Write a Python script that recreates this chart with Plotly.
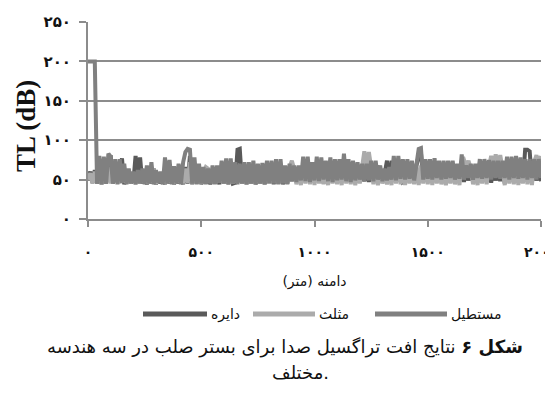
import plotly.graph_objects as go

# distance along range (m), sampled every 10 m
distance_m = list(range(0, 2001, 10))

series_names = ["دایره", "مثلث", "مستطیل"]
series_colors = ["#5a5a5a", "#ababab", "#808080"]

# TL (dB) – circle geometry
tl_circle = [
    52, 60, 46, 62, 45, 64, 44, 66, 45, 70,
    81, 45, 64, 46, 62, 77, 44, 60, 45, 58,
    46, 80, 62, 78, 45, 60, 44, 62, 45, 64,
    44, 56, 45, 58, 44, 66, 45, 64, 44, 60,
    45, 62, 44, 66, 45, 80, 44, 70, 45, 64,
    44, 58, 45, 56, 44, 60, 45, 62, 44, 64,
    45, 70, 44, 68, 45, 46, 88, 89, 45, 66,
    44, 64, 45, 66, 44, 62, 45, 64, 44, 66,
    45, 68, 44, 70, 45, 66, 44, 60, 45, 62,
    48, 64, 49, 60, 48, 70, 47, 72, 49, 66,
    48, 70, 49, 68, 45, 64, 48, 70, 49, 68,
    48, 66, 47, 74, 49, 66, 48, 64, 46, 62,
    49, 60, 48, 62, 47, 66, 49, 64, 48, 60,
    47, 58, 74, 47, 74, 49, 70, 48, 72, 47,
    49, 68, 47, 66, 45, 68, 80, 84, 49, 70,
    48, 66, 47, 68, 49, 66, 48, 64, 45, 66,
    47, 68, 49, 64, 48, 74, 47, 66, 49, 64,
    48, 66, 47, 68, 49, 70, 48, 66, 46, 64,
    49, 66, 48, 64, 45, 70, 47, 72, 49, 70,
    48, 68, 47, 88, 88, 86, 47, 70, 49, 68,
    48,
]

# TL (dB) – triangle geometry
tl_triangle = [
    50, 58, 45, 60, 46, 62, 45, 64, 46, 66,
    45, 66, 46, 64, 45, 62, 46, 58, 45, 56,
    46, 58, 45, 56, 46, 60, 45, 62, 46, 64,
    45, 56, 46, 58, 45, 62, 46, 64, 45, 60,
    46, 62, 45, 64, 46, 72, 45, 66, 46, 62,
    45, 60, 66, 64, 46, 60, 45, 62, 46, 64,
    45, 68, 46, 66, 45, 62, 46, 60, 45, 64,
    46, 62, 45, 64, 46, 60, 45, 62, 46, 64,
    45, 66, 46, 68, 45, 64, 46, 62, 45, 66,
    74, 64, 44, 62, 43, 68, 45, 70, 44, 66,
    43, 68, 45, 66, 44, 64, 43, 68, 45, 66,
    44, 64, 43, 70, 45, 66, 44, 64, 43, 62,
    45, 64, 86, 68, 85, 66, 44, 64, 43, 62,
    45, 60, 44, 62, 43, 70, 45, 72, 44, 68,
    43, 66, 45, 64, 44, 66, 43, 68, 45, 68,
    44, 66, 43, 68, 45, 64, 44, 62, 43, 64,
    45, 66, 44, 62, 43, 72, 75, 66, 74, 64,
    44, 62, 43, 66, 45, 68, 44, 66, 80, 68,
    82, 66, 81, 64, 43, 70, 45, 72, 44, 68,
    43, 66, 45, 70, 44, 68, 43, 72, 81, 70,
    80,
]

# TL (dB) – rectangle geometry
tl_rectangle = [
    200, 200, 200, 200, 45, 80, 44, 79, 45, 83,
    79, 45, 76, 44, 76, 46, 70, 44, 64, 45,
    60, 44, 62, 45, 64, 44, 68, 45, 72, 44,
    62, 46, 60, 44, 78, 45, 75, 44, 67, 45,
    70, 44, 72, 85, 89, 88, 45, 78, 44, 70,
    45, 66, 44, 64, 45, 68, 44, 68, 46, 74,
    45, 77, 44, 77, 45, 72, 44, 70, 45, 72,
    44, 72, 45, 74, 44, 70, 45, 71, 44, 74,
    46, 74, 45, 76, 44, 76, 45, 68, 44, 70,
    48, 68, 47, 68, 49, 79, 48, 79, 47, 72,
    49, 79, 48, 78, 50, 74, 48, 78, 47, 76,
    49, 76, 50, 83, 48, 76, 47, 74, 49, 72,
    50, 70, 48, 70, 49, 74, 48, 74, 50, 68,
    48, 64, 49, 66, 50, 80, 49, 80, 51, 76,
    50, 76, 51, 74, 49, 74, 89, 90, 50, 76,
    51, 76, 50, 77, 52, 74, 50, 74, 51, 74,
    52, 74, 50, 70, 51, 82, 50, 68, 52, 70,
    50, 70, 52, 76, 51, 76, 52, 75, 50, 74,
    52, 74, 51, 74, 52, 79, 50, 79, 52, 80,
    51, 78, 52, 76, 50, 76, 52, 76, 50, 76,
    52,
]

y_tickvals = [0, 50, 100, 150, 200, 250]
y_ticktext = ["۰", "۵۰", "۱۰۰", "۱۵۰", "۲۰۰", "۲۵۰"]
x_tickvals = [0, 500, 1000, 1500, 2000]
x_ticktext = ["۰", "۵۰۰", "۱۰۰۰", "۱۵۰۰", "۲۰۰۰"]

y_title = "TL (dB)"
x_title = "دامنه (متر)"
caption_label = "شکل ۶"
caption_text = "نتایج افت تراگسیل صدا برای بستر صلب در سه هندسه"
caption_line2 = "مختلف."

# ---- layout geometry (page pixels) ----
OFF = 8
W, H = 545, 401
L, T = 80, 14
PW, PH = 453, 197
R = W - L - PW
B = H - T - PH

y_title_x, y_title_y = 26, 126
caption_x1, caption_y1 = 285, 347
caption_x2, caption_y2 = 300, 372
legend_y = 314
legend_segments = [(143, 207), (253, 315), (375, 447)]


def px_x(px):
    return (px - OFF - L) / PW


def px_y(py):
    return (OFF + T + PH - py) / PH


fig = go.Figure()
for name, color, vals in zip(series_names, series_colors, [tl_circle, tl_triangle, tl_rectangle]):
    fig.add_trace(go.Scatter(x=distance_m, y=vals, mode="lines", name=name,
                             line=dict(color=color, width=4), showlegend=False))

axis_color = "#8c8c8c"
arabic_font = "DejaVu Sans"
text_color = "#111"

fig.update_layout(
    width=W, height=H,
    margin=dict(l=L, r=R, t=T, b=B, autoexpand=False),
    paper_bgcolor="white", plot_bgcolor="white",
    xaxis=dict(range=[0, 2000], tickvals=x_tickvals, ticktext=x_ticktext,
               showgrid=False, zeroline=False, showline=True, linecolor=axis_color, linewidth=2,
               ticks="outside", ticklen=6, tickwidth=2, tickcolor=axis_color,
               ticklabelstandoff=13, ticklabeloverflow="allow",
               tickfont=dict(family=arabic_font, size=14, color=text_color, weight="bold"),
               title=dict(text=x_title, font=dict(family=arabic_font, size=14, color=text_color), standoff=17)),
    yaxis=dict(range=[0, 250], tickvals=y_tickvals, ticktext=y_ticktext,
               showgrid=True, gridcolor=axis_color, gridwidth=2, zeroline=False,
               showline=True, linecolor=axis_color, linewidth=2,
               ticks="outside", ticklen=7, tickwidth=2, tickcolor=axis_color,
               ticklabelstandoff=5,
               tickfont=dict(family=arabic_font, size=15, color=text_color, weight="bold")),
)

# y-axis title placed at its position in the figure
fig.add_annotation(xref="paper", yref="paper", x=px_x(y_title_x), y=px_y(y_title_y),
                   xanchor="center", yanchor="middle", showarrow=False, textangle=-90,
                   text=y_title, borderpad=0,
                   font=dict(family="Liberation Serif", size=27, color=text_color, weight="bold"))

# legend drawn manually (long line samples, label to the right)
for (x0, x1), name, color in zip(legend_segments, series_names, series_colors):
    fig.add_shape(type="line", xref="paper", yref="paper",
                  x0=px_x(x0), x1=px_x(x1), y0=px_y(legend_y), y1=px_y(legend_y),
                  line=dict(color=color, width=5))
    fig.add_annotation(xref="paper", yref="paper", x=px_x(x1 + 2), y=px_y(legend_y),
                       xanchor="left", yanchor="middle", showarrow=False, text=name,
                       font=dict(family=arabic_font, size=14, color=text_color))

# caption (Persian, right-to-left)
fig.add_annotation(xref="paper", yref="paper", x=px_x(caption_x1), y=px_y(caption_y1),
                   xanchor="center", yanchor="middle", showarrow=False,
                   text="<b>" + caption_label + "</b> " + caption_text,
                   font=dict(family=arabic_font, size=18, color=text_color))
fig.add_annotation(xref="paper", yref="paper", x=px_x(caption_x2), y=px_y(caption_y2),
                   xanchor="center", yanchor="middle", showarrow=False, text=caption_line2,
                   font=dict(family=arabic_font, size=18, color=text_color))

fig.write_html("out.html")
